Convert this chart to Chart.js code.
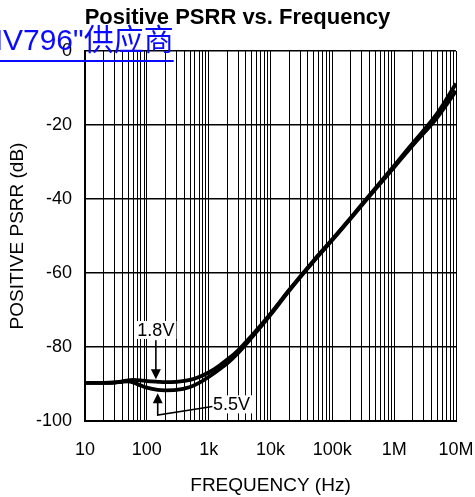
<!DOCTYPE html>
<html>
<head>
<meta charset="utf-8">
<style>
html, body { margin: 0; padding: 0; background: #fff; overflow: hidden; }
#wrap { position: relative; width: 475px; height: 497px; }
#link {
    position: absolute; left: -22px; top: 25px;
    font-family: 'Liberation Sans', 'Noto Sans CJK SC', sans-serif;
    font-size: 30px; line-height: 30px; color: #0a0aff;
    text-decoration: underline; text-decoration-thickness: 2px; text-underline-offset: 10px;
    white-space: nowrap;
}
</style>
<script src="https://cdn.jsdelivr.net/npm/chart.js@4.4.0/dist/chart.umd.min.js"></script>
</head>
<body>
<div id="wrap">
    <canvas id="psrrChart" width="475" height="497"></canvas>
    <a id="link">MV796"供应商</a>
</div>
<script>
// 频率 (Hz)
var freqs = [10, 20, 30, 40, 50, 60, 80, 100, 150, 200, 300, 500, 700, 1000, 1500, 2000, 3000, 5000,
    1e4, 2e4, 5e4, 1e5, 2e5, 5e5, 1e6, 2e6, 5e6, 1e7];
// 正电源抑制比 (dB)
var psrr18 = [-89.7, -89.7, -89.6, -89.3, -89.0, -88.9, -89.0, -89.2, -89.4, -89.5, -89.4, -88.9, -88.1, -86.9,
    -85.0, -83.4, -80.9, -76.9, -71.0, -64.6, -56.6, -50.9, -45.0, -37.0, -31.0, -24.9, -16.8, -8.8];
var psrr55 = [-89.7, -89.7, -89.6, -89.4, -89.3, -89.6, -90.4, -91.0, -91.6, -91.7, -91.6, -90.8, -89.7, -88.1,
    -86.0, -84.4, -81.6, -77.4, -71.3, -64.8, -56.8, -51.1, -45.2, -37.3, -31.4, -25.5, -17.9, -10.8];

// 坐标轴刻度
var decadeValues = [10, 100, 1000, 10000, 100000, 1000000, 10000000];
var decadeLabels = ['10', '100', '1k', '10k', '100k', '1M', '10M'];
var yMin = -100, yMax = 0, yStep = 20;

// 标注 (数据坐标)
var notes = [
    { text: '1.8V', f: 140, v: -75.4, arrowFrom: [140, -78.2], arrowTo: [140, -88.7] },
    { text: '5.5V', f: 2350, v: -95.5, leader: [[1150, -96.1], [150, -98.4]], arrowTo: [150, -92.5] }
];

function toPoints(vals) {
    return freqs.map(function(f, i) { return { x: f, y: vals[i] }; });
}

Chart.defaults.font.family = "'Liberation Sans', Arial, sans-serif";
Chart.defaults.color = '#000';

// 画标注和箭头
var notePlugin = {
    id: 'notes',
    afterDatasetsDraw: function(chart) {
        var ctx = chart.ctx, xs = chart.scales.x, ys = chart.scales.y;
        function px(p) { return [xs.getPixelForValue(p[0]), ys.getPixelForValue(p[1])]; }
        function arrow(tip, dir) {
            ctx.beginPath();
            ctx.moveTo(tip[0], tip[1]);
            ctx.lineTo(tip[0] - 5, tip[1] - dir * 10);
            ctx.lineTo(tip[0] + 5, tip[1] - dir * 10);
            ctx.closePath();
            ctx.fill();
        }
        ctx.save();
        ctx.font = "18px 'Liberation Sans', Arial, sans-serif";
        ctx.fillStyle = '#000';
        ctx.strokeStyle = '#000';
        ctx.lineWidth = 1.6;
        notes.forEach(function(n) {
            var c = px([n.f, n.v]);
            var w = ctx.measureText(n.text).width;
            ctx.fillStyle = '#fff';
            ctx.fillRect(c[0] - w / 2 - 2, c[1] - 9, w + 4, 18);
            ctx.fillStyle = '#000';
            ctx.textAlign = 'center';
            ctx.textBaseline = 'middle';
            ctx.fillText(n.text, c[0], c[1] + 1);
            var tip = px(n.arrowTo);
            if (n.arrowFrom) {
                var a = px(n.arrowFrom);
                ctx.beginPath();
                ctx.moveTo(a[0], a[1]);
                ctx.lineTo(tip[0], tip[1] - 8);
                ctx.stroke();
                arrow(tip, 1);
            } else {
                var p0 = px(n.leader[0]), p1 = px(n.leader[1]);
                ctx.beginPath();
                ctx.moveTo(p0[0], p0[1]);
                ctx.lineTo(p1[0], p1[1]);
                ctx.lineTo(tip[0], tip[1] + 8);
                ctx.stroke();
                arrow(tip, -1);
            }
        });
        ctx.restore();
    }
};

var ctx = document.getElementById('psrrChart').getContext('2d');
var psrrChart = new Chart(ctx, {
    type: 'line',
    data: {
        datasets: [
            { label: '1.8V', data: toPoints(psrr18), borderColor: '#000', borderWidth: 3.8,
              pointRadius: 0, cubicInterpolationMode: 'monotone', fill: false },
            { label: '5.5V', data: toPoints(psrr55), borderColor: '#000', borderWidth: 3.8,
              pointRadius: 0, cubicInterpolationMode: 'monotone', fill: false }
        ]
    },
    options: {
        responsive: false,
        animation: false,
        devicePixelRatio: 1,
        layout: { padding: 0 },
        plugins: {
            legend: { display: false },
            tooltip: { enabled: false },
            title: {
                display: true,
                text: 'Positive PSRR vs. Frequency',
                color: '#000',
                font: { size: 22, weight: 'bold' },
                padding: { top: 5, bottom: 19.6 }
            }
        },
        scales: {
            x: {
                type: 'logarithmic',
                min: decadeValues[0],
                max: decadeValues[decadeValues.length - 1],
                afterBuildTicks: function(scale) {
                    var ticks = [];
                    for (var d = 0; d < decadeValues.length - 1; d++) {
                        for (var k = 1; k < 10; k++) {
                            ticks.push({ value: decadeValues[d] * k });
                        }
                    }
                    ticks.push({ value: decadeValues[decadeValues.length - 1] });
                    scale.ticks = ticks;
                },
                afterFit: function(scale) {
                    scale.height = 76;
                    scale.paddingLeft = 0;
                    scale.paddingRight = 19;
                },
                ticks: {
                    autoSkip: false,
                    maxRotation: 0,
                    padding: 18,
                    font: { size: 18 },
                    color: '#000',
                    callback: function(value) {
                        var i = decadeValues.indexOf(value);
                        return i >= 0 ? decadeLabels[i] : '';
                    }
                },
                grid: { color: '#000', lineWidth: 1, drawTicks: false },
                border: { color: '#000', width: 2 },
                title: {
                    display: true, text: 'FREQUENCY (Hz)', color: '#000',
                    font: { size: 19 }, padding: { top: 0, bottom: 0 }
                }
            },
            y: {
                min: yMin,
                max: yMax,
                afterFit: function(scale) { scale.width = 85; },
                ticks: { stepSize: yStep, padding: 13, font: { size: 18 }, color: '#000' },
                grid: { color: '#000', lineWidth: 1.5, drawTicks: false },
                border: { color: '#000', width: 2 },
                title: {
                    display: true, text: 'POSITIVE PSRR (dB)', color: '#000',
                    font: { size: 19 }, padding: { top: 6, bottom: 0 }
                }
            }
        }
    },
    plugins: [notePlugin]
});
</script>
</body>
</html>
